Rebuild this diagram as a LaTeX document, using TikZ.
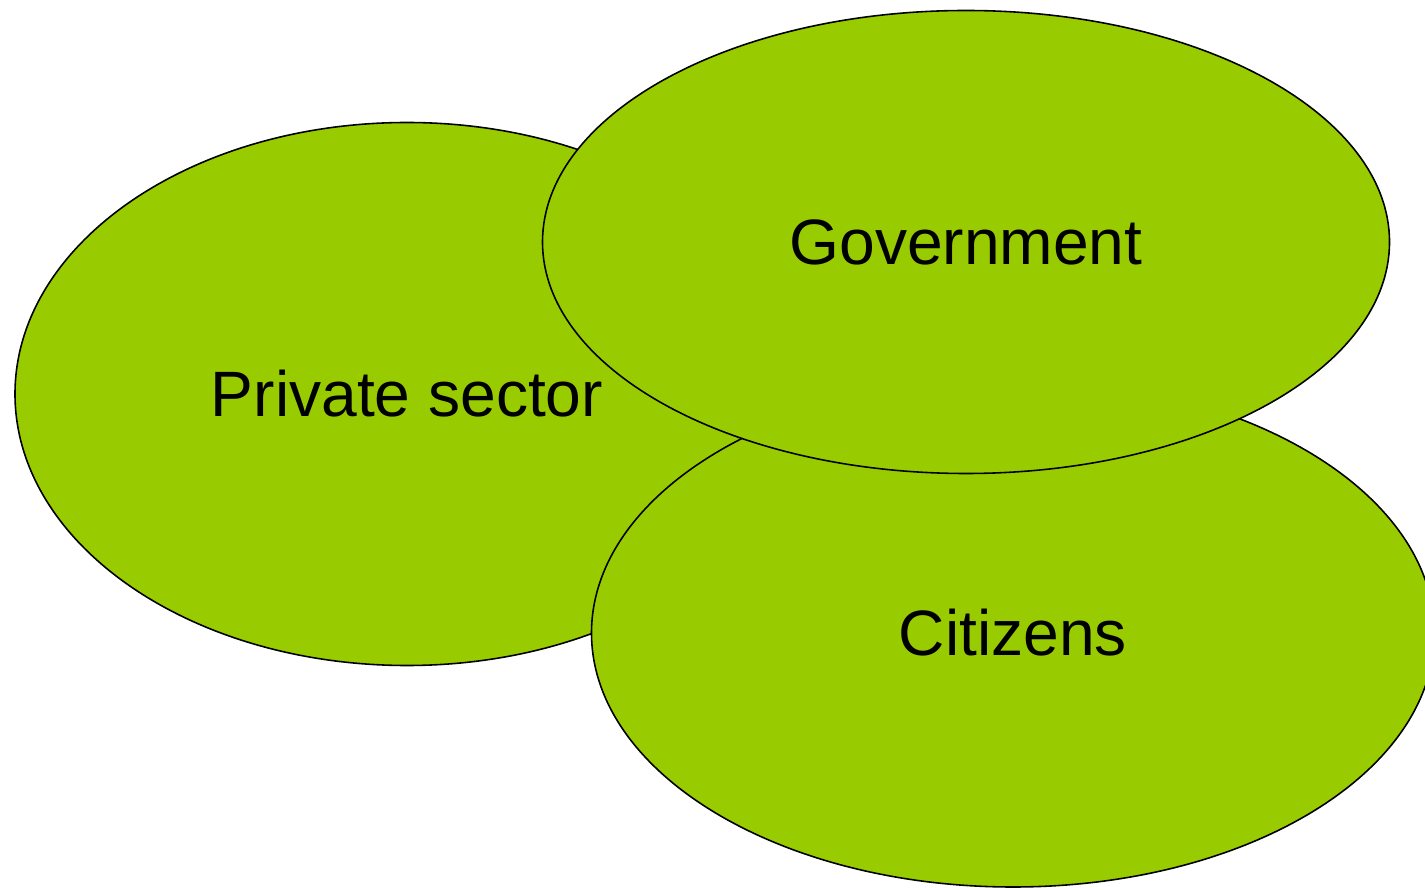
\documentclass[tikz,border=0pt]{standalone}
\usepackage{fontspec}
\setmainfont{Liberation Sans}
\usepackage{tikz}
\definecolor{leaf}{HTML}{99CC00}
\usetikzlibrary{shapes.geometric}
\tikzset{blob/.style={
    ellipse,
    inner sep=0pt,
    line width=0.9pt,
    draw=black,
    fill=leaf,
    font=\fontsize{36.5}{42}\selectfont}}

\begin{document}
\begin{tikzpicture}
  \useasboundingbox (0,0) rectangle (28.5,17.78);
  \coordinate (PS) at (8.14,9.9);
\coordinate (GV) at (19.32,12.94);
\coordinate (CT) at (20.26,5.12);

\node[blob,
  minimum width=15.68cm,
  minimum height=10.86cm] (private) at (PS) {Private sector};

\node[blob,
  minimum width=16.86cm,
  minimum height=10.16cm] (citizens) at (CT) {Citizens};

\node[blob,
  minimum width=16.94cm,
  minimum height=9.26cm] (gov) at (GV) {Government};


\end{tikzpicture}
\end{document}
